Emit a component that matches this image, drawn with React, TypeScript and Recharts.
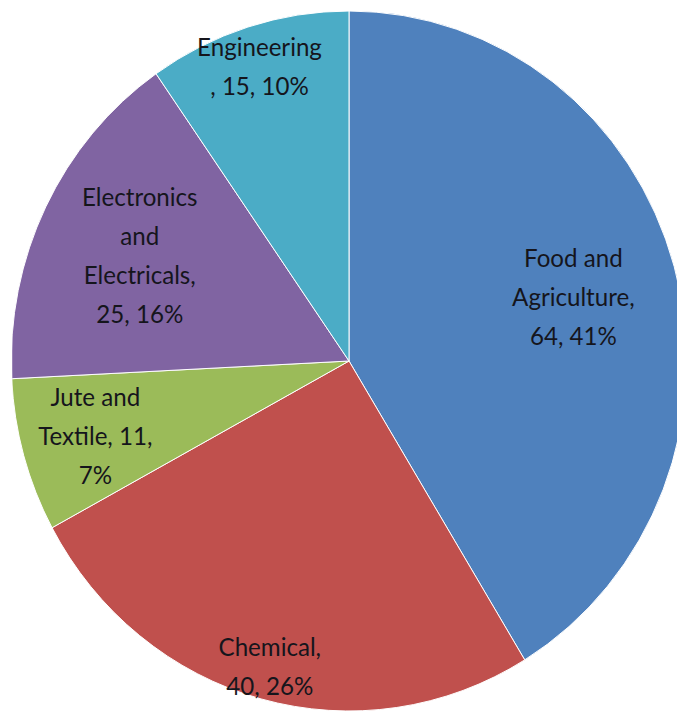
import React from 'react'
import { PieChart, Pie, Cell } from 'recharts'

// Sectors, clockwise from 12 o'clock
const categories = [
  'Food and Agriculture',
  'Chemical',
  'Jute and Textile',
  'Electronics and Electricals',
  'Engineering',
]
const values = [64, 40, 11, 25, 15]
const colors = ['#4F81BD', '#C0504D', '#9BBB59', '#8064A2', '#4BACC6']

// Data labels as they are wrapped in the picture
const labelLines = [
  ['Food and', 'Agriculture,', '64, 41%'],
  ['Chemical,', '40, 26%'],
  ['Jute and', 'Textile, 11,', '7%'],
  ['Electronics', 'and', 'Electricals,', '25, 16%'],
  ['Engineering', ', 15, 10%'],
]

// how far out (fraction of radius) each label sits
const labelRadius = [0.69, 0.9, 0.78, 0.69, 0.885]

const RAD = Math.PI / 180
const LINE_H = 39

const data = categories.map((name, i) => ({ name, value: values[i] }))

const renderLabel = (props: any) => {
  const { cx, cy, midAngle, outerRadius, index } = props
  const r = outerRadius * labelRadius[index]
  const x = cx + r * Math.cos(-midAngle * RAD)
  const y = cy + r * Math.sin(-midAngle * RAD)
  const lines = labelLines[index]
  const top = y - ((lines.length - 1) * LINE_H) / 2
  return (
    <text
      x={x}
      y={top}
      textAnchor="middle"
      dominantBaseline="central"
      fill="#15151c"
      fontSize={25}
      fontFamily="Lato, 'Open Sans', sans-serif"
    >
      {lines.map((line, i) => (
        <tspan key={i} x={x} y={top + i * LINE_H}>
          {line}
        </tspan>
      ))}
    </text>
  )
}

export default function App() {
  return (
    <div style={{ position: 'absolute', left: 0, top: 0, width: 677, height: 712, background: '#fff', overflow: 'hidden' }}>
      {/* the source pie is a little narrower than it is tall */}
      <div style={{ transform: 'scaleX(0.965)', transformOrigin: '349px 0' }}>
        <PieChart width={700} height={712} margin={{ top: 0, right: 0, bottom: 0, left: 0 }}>
          <Pie
            data={data}
            dataKey="value"
            nameKey="name"
            cx={349}
            cy={361}
            outerRadius={350}
            startAngle={90}
            endAngle={-270}
            stroke="#ffffff"
            strokeWidth={1}
            labelLine={false}
            label={renderLabel}
            isAnimationActive={false}
          >
            {data.map((entry, i) => (
              <Cell key={entry.name} fill={colors[i]} />
            ))}
          </Pie>
        </PieChart>
      </div>
    </div>
  )
}
